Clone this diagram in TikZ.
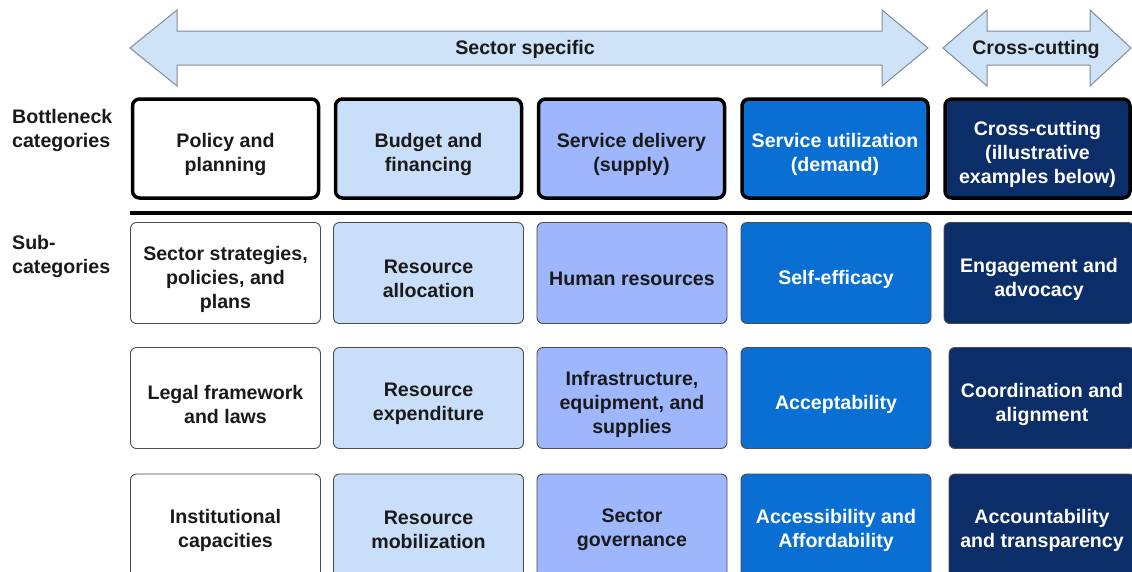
\documentclass[tikz,border=0pt]{standalone}
\usepackage{fontspec}
\setmainfont{Liberation Sans}
\definecolor{arrowfill}{HTML}{CFE3F8}
\definecolor{arrowline}{HTML}{7F8C99}
\definecolor{cA}{HTML}{FFFFFF}
\definecolor{cB}{HTML}{C9DEF8}
\definecolor{cC}{HTML}{9DB6FC}
\definecolor{cD}{HTML}{0A6FD2}
\definecolor{cE}{HTML}{0B2D68}
\definecolor{txt}{HTML}{1A1A1A}
\begin{document}
\begin{tikzpicture}[x=1pt,y=-1pt,
  lbl/.style={font=\fontsize{19.6}{24}\selectfont\bfseries, text=txt, align=center, inner sep=0pt},
  wlbl/.style={lbl, text=white},
  sidelbl/.style={font=\fontsize{19.6}{24.5}\selectfont\bfseries, text=txt, align=left, anchor=north west, inner sep=0pt},
  topbox/.style={draw=black, line width=3.5pt, rounded corners=7pt, minimum width=186pt, minimum height=99pt, inner sep=0pt},
  subbox/.style={draw=black!70, line width=0.9pt, rounded corners=6pt, minimum width=190pt, minimum height=101pt, inner sep=0pt},
  banner/.style={fill=arrowfill, draw=arrowline, line width=1pt, line join=miter}
]
\clip (0,0) rectangle (1132,571);
\fill[white] (0,0) rectangle (1132,571);
% banners
\draw[banner] (130,48) -- (177,10) -- (177,31) -- (882,31) -- (882,10) -- (928,48) -- (882,86) -- (882,65) -- (177,65) -- (177,86) -- cycle;
\node[lbl] (sec) at (525,49) {Sector specific};
\draw[banner] (943,48) -- (987,10) -- (987,31) -- (1090,31) -- (1090,10) -- (1131,48) -- (1090,86) -- (1090,65) -- (987,65) -- (987,86) -- cycle;
\node[lbl] (cross) at (1036,49) {Cross-cutting};
% side labels
\node[sidelbl] (bl) at (12,109) {Bottleneck\\categories};
\node[sidelbl] (sl) at (12,235) {Sub-\\categories};
% top boxes
\node[topbox, fill=cA] (t1) at (225.5,148.5) {};
\node[topbox, fill=cB] (t2) at (428.5,148.5) {};
\node[topbox, fill=cC] (t3) at (631.5,148.5) {};
\node[topbox, fill=cD] (t4) at (835,148.5) {};
\node[topbox, fill=cE, minimum width=185pt] (t5) at (1037.5,148.5) {};
\node[lbl]  (t1l) at ([yshift=-6pt]t1.center) {Policy and\\planning};
\node[lbl]  (t2l) at ([yshift=-6pt]t2.center) {Budget and\\financing};
\node[lbl]  (t3l) at ([yshift=-6pt]t3.center) {Service delivery\\(supply)};
\node[wlbl] (t4l) at ([yshift=-6pt]t4.center) {Service utilization\\(demand)};
\node[wlbl] (t5l) at ([yshift=-6pt]t5.center) {Cross-cutting\\(illustrative\\examples below)};
% separator
\draw[line width=4pt, black] (130,212.5) -- (1132,212.5);
% row 1
\node[subbox, fill=cA] (a1) at (225.5,273) {};
\node[subbox, fill=cB] (b1) at (428.5,273) {};
\node[subbox, fill=cC] (c1) at (632,273) {};
\node[subbox, fill=cD] (d1) at (836,273) {};
\node[subbox, fill=cE] (e1) at (1039,273) {};
\node[lbl]  (a1l) at ([yshift=-6pt]a1.center) {Sector strategies,\\policies, and\\plans};
\node[lbl]  (b1l) at ([yshift=-6pt]b1.center) {Resource\\allocation};
\node[lbl]  (c1l) at ([yshift=-6pt]c1.center) {Human resources};
\node[wlbl] (d1l) at ([yshift=-6pt]d1.center) {Self-efficacy};
\node[wlbl] (e1l) at ([yshift=-6pt]e1.center) {Engagement and\\advocacy};
% row 2
\node[subbox, fill=cA] (a2) at (225.5,398) {};
\node[subbox, fill=cB] (b2) at (428.5,398) {};
\node[subbox, fill=cC] (c2) at (632,398) {};
\node[subbox, fill=cD] (d2) at (836,398) {};
\node[subbox, fill=cE, minimum width=186pt] (e2) at (1042,398) {};
\node[lbl]  (a2l) at ([yshift=-6pt]a2.center) {Legal framework\\and laws};
\node[lbl]  (b2l) at ([yshift=-6pt]b2.center) {Resource\\expenditure};
\node[lbl]  (c2l) at ([yshift=-6pt]c2.center) {Infrastructure,\\equipment, and\\supplies};
\node[wlbl] (d2l) at ([yshift=-6pt]d2.center) {Acceptability};
\node[wlbl] (e2l) at ([yshift=-6pt]e2.center) {Coordination and\\alignment};
% row 3
\node[subbox, fill=cA, minimum height=104pt] (a3) at (225.5,526) {};
\node[subbox, fill=cB, minimum height=104pt] (b3) at (428.5,526) {};
\node[subbox, fill=cC, minimum height=104pt] (c3) at (632,526) {};
\node[subbox, fill=cD, minimum height=104pt] (d3) at (836,526) {};
\node[subbox, fill=cE, minimum width=186pt, minimum height=104pt] (e3) at (1042,526) {};
\node[lbl]  (a3l) at ([yshift=-4pt]a3.center) {Institutional\\capacities};
\node[lbl]  (b3l) at ([yshift=-4pt]b3.center) {Resource\\mobilization};
\node[lbl]  (c3l) at ([yshift=-4pt]c3.center) {Sector\\governance};
\node[wlbl] (d3l) at ([yshift=-4pt]d3.center) {Accessibility and\\Affordability};
\node[wlbl] (e3l) at ([yshift=-4pt]e3.center) {Accountability\\and transparency};
\end{tikzpicture}
\end{document}
